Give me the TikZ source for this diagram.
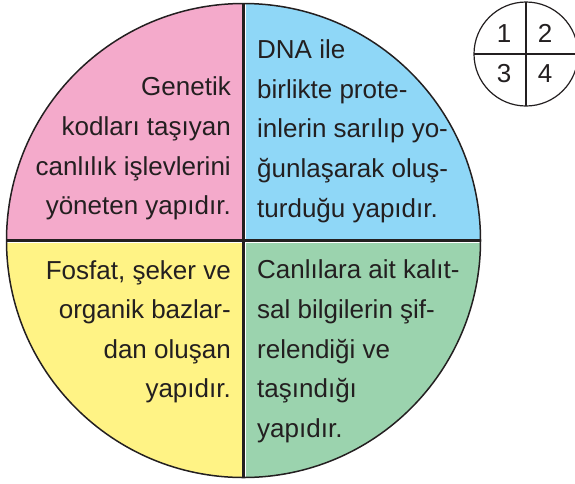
\documentclass[tikz,border=0pt]{standalone}
\usepackage{fontspec}
\setmainfont{Liberation Sans}
\definecolor{qpink}{HTML}{F4AACB}
\definecolor{qblue}{HTML}{8FD7F7}
\definecolor{qyellow}{HTML}{FFF385}
\definecolor{qgreen}{HTML}{9BD3AE}
\definecolor{ink}{HTML}{231F20}
\begin{document}
\begin{tikzpicture}[x=1pt,y=-1pt,
  txt/.style={inner sep=0pt,text=ink,font=\fontsize{26}{30}\selectfont},
  rl/.style={txt,anchor=base east},
  ll/.style={txt,anchor=base west},
  num/.style={txt,anchor=base},
  rim/.style={draw=ink,line width=1.5pt},
  divider/.style={draw=ink,line width=2.4pt}]
\useasboundingbox (0,0) rectangle (575,483);
% quadrants
\coordinate (c) at (243.5,240.5);
\begin{scope}
\clip (c) circle[radius=237];
\fill[qpink] (0,0) rectangle (243.5,240.5);
\fill[qblue] (243.5,0) rectangle (485,240.5);
\fill[qyellow] (0,240.5) rectangle (243.5,483);
\fill[qgreen] (243.5,240.5) rectangle (485,483);
\draw[white,line width=4pt] (243.5,0) -- (243.5,483) (0,240.5) -- (485,240.5);
\draw[divider] (243.5,0) -- (243.5,483) (0,240.5) -- (485,240.5);
\end{scope}
\draw[rim] (c) circle[radius=237];
% quadrant 1
\node[rl] (a1) at (231,95) {Genetik};
\node[rl] (a2) at (231,135) {kodları taşıyan};
\node[rl] (a3) at (231,175) {canlılık işlevlerini};
\node[rl] (a4) at (231,214) {yöneten yapıdır.};
% quadrant 2
\node[ll] (b1) at (257,58) {DNA ile};
\node[ll] (b2) at (257,98) {birlikte prote-};
\node[ll] (b3) at (257,137) {inlerin sarılıp yo-};
\node[ll] (b4) at (257,177) {ğunlaşarak oluş-};
\node[ll] (b5) at (257,217) {turduğu yapıdır.};
% quadrant 3
\node[rl] (d1) at (231,279) {Fosfat, şeker ve};
\node[rl] (d2) at (231,318) {organik bazlar-};
\node[rl] (d3) at (231,358) {dan oluşan};
\node[rl] (d4) at (231,397) {yapıdır.};
% quadrant 4
\node[ll] (e1) at (257,278) {Canlılara ait kalıt-};
\node[ll] (e2) at (257,318) {sal bilgilerin şif-};
\node[ll] (e3) at (257,358) {relendiği ve};
\node[ll] (e4) at (257,397) {taşındığı};
\node[ll] (e5) at (257,437) {yapıdır.};
% key circle
\coordinate (k) at (526,54);
\draw[line width=1.2pt,draw=ink,fill=white] (k) circle[radius=52];
\draw[draw=ink,line width=1.8pt] (526,2) -- (526,106) (474,54) -- (578,54);
\node[num] (n1) at (504,42) {1};
\node[num] (n2) at (545,42) {2};
\node[num] (n3) at (504,82) {3};
\node[num] (n4) at (545,82) {4};
\end{tikzpicture}
\end{document}
